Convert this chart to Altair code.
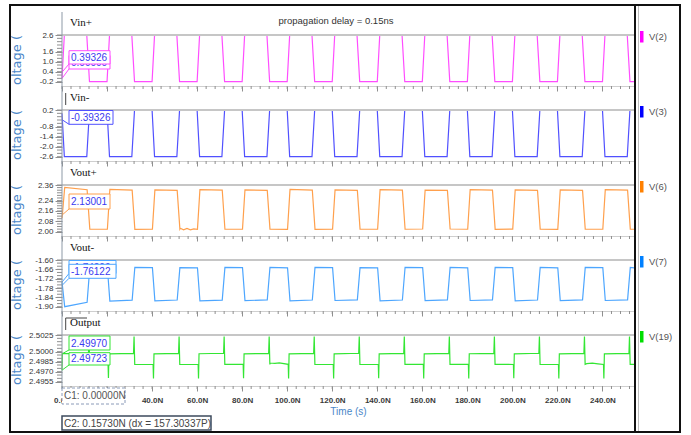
import altair as alt
import pandas as pd

# ---------------- time base (ns) ----------------
T_MAX = 254.0
cycle_start = [0, 20, 40, 60, 80, 100, 120, 140, 160, 180, 200, 220, 240]
fall_offset = 11.0          # falling input edge inside each 20 ns cycle
edge_rise = 1.1             # input edge durations (ns)
edge_fall = 1.2

# ---------------- cursor readouts (C1, C2) ----------------
cursor_t = [0.0, 0.15730337]
vinp_cursor = [0.00000, 0.39326]
vinn_cursor = [0.00000, -0.39326]
voutp_cursor = [2.10400, 2.13001]
voutn_cursor = [-1.74200, -1.76122]
out_cursor = [2.49723, 2.49970]

# ---------------- V(2)  Vin+ ----------------
vinp_high = [2.6] * 13
vinp_low = [-0.2] * 13

# ---------------- V(3)  Vin- ----------------
vinn_low = [-2.6] * 13
vinn_high = [0.2] * 13

# ---------------- V(6)  Vout+ ----------------
voutp_hi_start = [2.342, 2.326, 2.322, 2.325, 2.323, 2.326, 2.322, 2.324, 2.321, 2.325, 2.323, 2.322, 2.324]
voutp_hi_end = [2.324, 2.320, 2.318, 2.321, 2.318, 2.321, 2.319, 2.320, 2.318, 2.321, 2.319, 2.318, 2.320]
voutp_lo_start = [2.020, 2.018, 2.021, 2.019, 2.020, 2.018, 2.020, 2.019, 2.021, 2.018, 2.020, 2.019, 2.020]
voutp_lo_end = [2.019, 2.020, 2.019, 2.020, 2.018, 2.020, 2.019, 2.021, 2.019, 2.020, 2.018, 2.020, 2.019]
voutp_ripple = [(52.5, 2.026), (54.0, 2.014), (55.5, 2.025), (57.0, 2.015), (58.5, 2.022)]

# ---------------- V(7)  Vout- ----------------
voutn_lo_start = [-1.900, -1.864, -1.862, -1.863, -1.861, -1.862, -1.860, -1.862, -1.861, -1.860, -1.862, -1.861, -1.860]
voutn_lo_end = [-1.872, -1.858, -1.857, -1.858, -1.856, -1.857, -1.856, -1.857, -1.856, -1.856, -1.857, -1.856, -1.856]
voutn_hi_start = [-1.648, -1.647, -1.649, -1.648, -1.647, -1.648, -1.649, -1.647, -1.648, -1.648, -1.647, -1.648, -1.648]
voutn_hi_end = [-1.650, -1.649, -1.650, -1.649, -1.650, -1.649, -1.650, -1.649, -1.650, -1.649, -1.650, -1.649, -1.650]

# ---------------- V(19)  Output ----------------
out_on_start = [2.49970, 2.49968, 2.49967, 2.49969, 2.49967, 2.49968, 2.49966, 2.49968, 2.49967, 2.49969, 2.49967, 2.49968, 2.49967]
out_on_end = [2.49975, 2.49974, 2.49975, 2.49976, 2.49974, 2.49975, 2.49976, 2.49974, 2.49975, 2.49974, 2.49976, 2.49975, 2.49974]
out_peak = [2.50225, 2.50228, 2.50226, 2.50228, 2.50227, 2.50226, 2.50228, 2.50227, 2.50226, 2.50228, 2.50227, 2.50226, 2.50228]
out_off_start = [2.49812, 2.49810, 2.49808, 2.49811, 2.49809, 2.49810, 2.49808, 2.49810, 2.49809, 2.49811, 2.49808, 2.49810, 2.49809]
out_off_end = [2.49810, 2.49808, 2.49810, 2.49809, 2.49811, 2.49808, 2.49810, 2.49809, 2.49810, 2.49808, 2.49810, 2.49809, 2.49810]
out_dip = [2.49600, 2.49605, 2.49600, 2.49598, 2.49602, 2.49600, 2.49597, 2.49603, 2.49600, 2.49598, 2.49602, 2.49600, 2.49598]
out_ripple = [(92.5, 2.49830), (94.5, 2.49826), (96.5, 2.49832), (233.0, 2.49820), (235.5, 2.49827), (238.0, 2.49818)]

# ---------------- axis ticks ----------------
x_major = [0, 20, 40, 60, 80, 100, 120, 140, 160, 180, 200, 220, 240]
x_minor_step = 4

W, H = 572, 51
GAP = 24


def pulse_trace(cursor_vals, on_start, on_end, off_start, off_end, delay, first_top, extra=()):
    """Piecewise-linear pulse train following the input clock edges."""
    pts = list(zip(cursor_t, cursor_vals))
    for k, t0 in enumerate(cycle_start):
        if k == 0:
            pts.append((first_top, on_start[0]))
        else:
            pts.append((t0 + delay, off_end[k - 1]))
            pts.append((t0 + delay + edge_rise, on_start[k]))
        pts.append((t0 + delay + fall_offset, on_end[k]))
        pts.append((t0 + delay + fall_offset + edge_fall, off_start[k]))
    pts.append((T_MAX, off_end[-1]))
    pts.extend(extra)
    pts.sort()
    return pd.DataFrame(pts, columns=["t", "v"])


def output_trace():
    """Output node: two levels with switching glitches at every input edge."""
    pts = list(zip(cursor_t, out_cursor))
    for k, t0 in enumerate(cycle_start):
        if k > 0:
            pts += [(t0 + 0.45, out_off_end[k - 1]), (t0 + 0.62, out_dip[k]), (t0 + 0.85, out_on_start[k])]
        pts += [(t0 + 11.75, out_on_end[k]), (t0 + 12.0, out_peak[k]), (t0 + 12.3, out_off_start[k])]
    pts.append((T_MAX, out_off_end[-1]))
    pts.extend(out_ripple)
    pts.sort()
    return pd.DataFrame(pts, columns=["t", "v"])


vinp_df = pulse_trace(vinp_cursor, vinp_high, vinp_high, vinp_low, vinp_low, 0.0, 1.04)
vinn_df = pulse_trace(vinn_cursor, vinn_low, vinn_low, vinn_high, vinn_high, 0.0, 1.04)
voutp_df = pulse_trace(voutp_cursor, voutp_hi_start, voutp_hi_end, voutp_lo_start, voutp_lo_end, 0.15, 1.2, voutp_ripple)
voutn_df = pulse_trace(voutn_cursor, voutn_lo_start, voutn_lo_end, voutn_hi_start, voutn_hi_end, 0.15, 1.2)
out_df = output_trace()

one = pd.DataFrame({"k": [0]})
LABEL_FONT = "Liberation Sans"
VALUE_BLUE = "#3a3af0"
TICK_GREY = "#8f8f8f"

x_scale = alt.Scale(domain=[0, T_MAX], nice=False, zero=False)
x_minor_df = pd.DataFrame({"t": list(range(0, int(T_MAX), x_minor_step))})


def tick_values(lo, hi, step):
    n = int(round((hi - lo) / step))
    return [round(lo + i * step, 6) for i in range(n + 1)]


def x_axis(labels):
    common = dict(values=x_major, tickSize=5, tickColor=TICK_GREY, domainColor="#cfcfcf",
                  grid=False, labelOverlap=False, labelFlush=False)
    if not labels:
        return alt.Axis(labels=False, title=None, **common)
    return alt.Axis(
        labelExpr="format(datum.value, '.1f') + 'N'",
        labelFont=LABEL_FONT, labelFontSize=8, labelColor="#3a3a3a", labelFontWeight="bold",
        labelPadding=5, title="Time (s)", titleFont=LABEL_FONT, titleFontSize=10,
        titleFontWeight="normal", titleColor="#4a86c8", titleY=20, titleBaseline="top",
        **common)


def panel(name, legend, line_color, swatch, df, lo, hi, step, labeled, fmt, boxes, last=False):
    ext = lo - 0.092 * (hi - lo)
    y_scale = alt.Scale(domain=[ext, hi], nice=False, zero=False)
    y_axis = alt.Axis(
        values=labeled,
        labelExpr="(datum.value < 0 ? '-' : '') + format(abs(datum.value), '%s')" % fmt,
        tickSize=7, tickColor=TICK_GREY, domain=False, grid=False,
        labelFont=LABEL_FONT, labelFontSize=8, labelColor="#333333", labelPadding=2,
        labelOverlap=False, labelFlush=False, labelSeparation=0,
        title="oltage (", titleFont="DejaVu Sans", titleFontSize=13, titleFontWeight="normal",
        titleColor="#4a86c8", titleAngle=270, titleX=-39, titleY=H / 2 - 1,
        titleBaseline="bottom", titleAlign="center",
    )
    x_axis_spec = x_axis(last)
    x_title = "Time (s)" if last else None
    y_title = "oltage ("

    line = alt.Chart(df).mark_line(color=line_color, strokeWidth=1.2).encode(
        x=alt.X("t:Q", scale=x_scale, axis=x_axis_spec, title=x_title),
        y=alt.Y("v:Q", scale=y_scale, axis=y_axis, title=y_title))

    # minor ticks on both axes (share the line's scales and axes)
    y_minor_df = pd.DataFrame({"v": tick_values(lo, hi, step)})
    y_minor = alt.Chart(y_minor_df).mark_rule(color=TICK_GREY, strokeWidth=1).encode(
        y=alt.Y("v:Q", scale=y_scale, axis=y_axis, title=y_title), x=alt.value(-5), x2=alt.value(0))
    x_minor = alt.Chart(x_minor_df).mark_rule(color=TICK_GREY, strokeWidth=1).encode(
        x=alt.X("t:Q", scale=x_scale, axis=x_axis_spec, title=x_title), y=alt.value(H), y2=alt.value(H + 3))

    top_rule = alt.Chart(one).mark_rule(color="#c6c6c6", strokeWidth=2).encode(
        x=alt.value(0), x2=alt.value(W), y=alt.value(0))
    title = alt.Chart(one).mark_text(font="Liberation Serif", fontSize=11, color="#111111",
                                     align="left", baseline="middle").encode(
        x=alt.value(8), y=alt.value(-12), text=alt.value(name))
    sw = alt.Chart(one).mark_rect(color=swatch).encode(
        x=alt.value(578), x2=alt.value(581.5), y=alt.value(-4), y2=alt.value(7.5))
    sw_text = alt.Chart(one).mark_text(font=LABEL_FONT, fontSize=9.5, color="#555555",
                                       align="left", baseline="middle").encode(
        x=alt.value(587), y=alt.value(1.5), text=alt.value(legend))

    layers = [line, y_minor, x_minor, top_rule, title, sw, sw_text]

    # cursor readout boxes, drawn back to front
    for idx, y0, y1, x1 in boxes:
        lead = pd.DataFrame({"t": [cursor_t[idx]], "v": [df_cursor[name][idx]]})
        layers.append(alt.Chart(lead).mark_rule(color=line_color, strokeWidth=1).encode(
            x=alt.X("t:Q", scale=x_scale, axis=x_axis_spec, title=x_title),
            y=alt.Y("v:Q", scale=y_scale, axis=y_axis, title=y_title),
            x2=alt.value(7), y2=alt.value(y1)))
        layers.append(alt.Chart(one).mark_rect(fill="white", stroke=line_color, strokeWidth=1).encode(
            x=alt.value(7), x2=alt.value(x1), y=alt.value(y0), y2=alt.value(y1)))
        layers.append(alt.Chart(one).mark_text(font=LABEL_FONT, fontSize=10, color=VALUE_BLUE,
                                               align="left", baseline="middle").encode(
            x=alt.value(9), y=alt.value((y0 + y1) / 2 + 0.5),
            text=alt.value("%.5f" % df_cursor[name][idx])))
    return layers


df_cursor = {
    "Vin+": vinp_cursor, "Vin-": vinn_cursor, "Vout+": voutp_cursor,
    "Vout-": voutn_cursor, "Output": out_cursor,
}

p1 = panel("Vin+", "V(2)", "#ff4dff", "#ff00ff", vinp_df, -0.2, 2.6, 0.2,
           [2.6, 1.6, 1.0, 0.4, -0.2], ".1f", [(0, 20.5, 34, 48), (1, 15.7, 29, 48)])
p1.append(alt.Chart(one).mark_text(font=LABEL_FONT, fontSize=9.5, color="#333333",
                                   align="center", baseline="middle").encode(
    x=alt.value(274), y=alt.value(-14), text=alt.value("propagation delay = 0.15ns")))

p2 = panel("Vin-", "V(3)", "#5050ff", "#0000ff", vinn_df, -2.6, 0.2, 0.2,
           [0.2, -0.8, -1.4, -2.0, -2.6], ".1f", [(1, 0.5, 14.3, 51)])
p2.append(alt.Chart(one).mark_rule(color="#444444").encode(
    x=alt.value(3.7), y=alt.value(-17), y2=alt.value(-5)))

p3 = panel("Vout+", "V(6)", "#ffa04d", "#ff8000", voutp_df, 2.0, 2.36, 0.02,
           [2.36, 2.24, 2.16, 2.08, 2.0], ".2f", [(1, 9, 24, 48)])

p4 = panel("Vout-", "V(7)", "#4da6ff", "#0080ff", voutn_df, -1.9, -1.6, 0.02,
           [-1.6, -1.66, -1.72, -1.78, -1.84, -1.9], ".2f", [(0, 0.5, 13.5, 54), (1, 4.3, 18.3, 54)])

p5 = panel("Output", "V(19)", "#33e633", "#00dd00", out_df, 2.4955, 2.5025, 0.0005,
           [2.5025, 2.5, 2.4985, 2.497, 2.4955], ".4f", [(1, 1, 15, 48), (0, 17.7, 30, 48)], last=True)
p5 += [
    alt.Chart(one).mark_rule(color="#444444").encode(x=alt.value(3.7), y=alt.value(-17), y2=alt.value(-5)),
    alt.Chart(one).mark_rule(color="#444444").encode(x=alt.value(3.7), x2=alt.value(25), y=alt.value(-17)),
    # cursor position readouts under the time axis
    alt.Chart(one).mark_rect(fill="white", stroke="#8a9ab8", strokeDash=[3, 2], strokeWidth=1).encode(
        x=alt.value(0), x2=alt.value(63), y=alt.value(53), y2=alt.value(69)),
    alt.Chart(one).mark_text(font=LABEL_FONT, fontSize=10, color="#555555", align="left",
                             baseline="middle").encode(
        x=alt.value(2), y=alt.value(61), text=alt.value("C1: %.5fN" % cursor_t[0])),
    alt.Chart(one).mark_rect(fill="white", stroke="#3d4a5c", strokeWidth=1.5).encode(
        x=alt.value(0), x2=alt.value(149), y=alt.value(81), y2=alt.value(95)),
    alt.Chart(one).mark_text(font=LABEL_FONT, fontSize=10, color="#444444", align="left",
                             baseline="middle").encode(
        x=alt.value(2), y=alt.value(88.5),
        text=alt.value("C2: %.5fN (dx = %.5fP)" % (cursor_t[1], (cursor_t[1] - cursor_t[0]) * 1000))),
    # shared left axis line, right divider and outer frame
    alt.Chart(one).mark_rule(color="#8d99a6", strokeWidth=1).encode(
        x=alt.value(0), y=alt.value(-323), y2=alt.value(53)),
    alt.Chart(one).mark_rule(color="#111111", strokeWidth=2).encode(
        x=alt.value(573), y=alt.value(-330), y2=alt.value(97)),
    alt.Chart(one).mark_rule(color="#bdbdbd", strokeWidth=1).encode(
        x=alt.value(576.5), y=alt.value(-330), y2=alt.value(97)),
    alt.Chart(one).mark_rect(fill=None, stroke="#111111", strokeWidth=2).encode(
        x=alt.value(-52), x2=alt.value(618), y=alt.value(-330), y2=alt.value(97)),
]

panels = [alt.layer(*p).properties(width=W, height=H) for p in (p1, p2, p3, p4, p5)]

chart = alt.vconcat(*panels, spacing=GAP, bounds="flush").properties(
    padding={"left": 9, "top": 4, "right": 0, "bottom": 0},
    background="white",
).configure_view(stroke=None).configure_axis(labelOverlap=False, labelSeparation=0)

chart.save("out.html", embed_options={"renderer": "svg", "actions": False})
